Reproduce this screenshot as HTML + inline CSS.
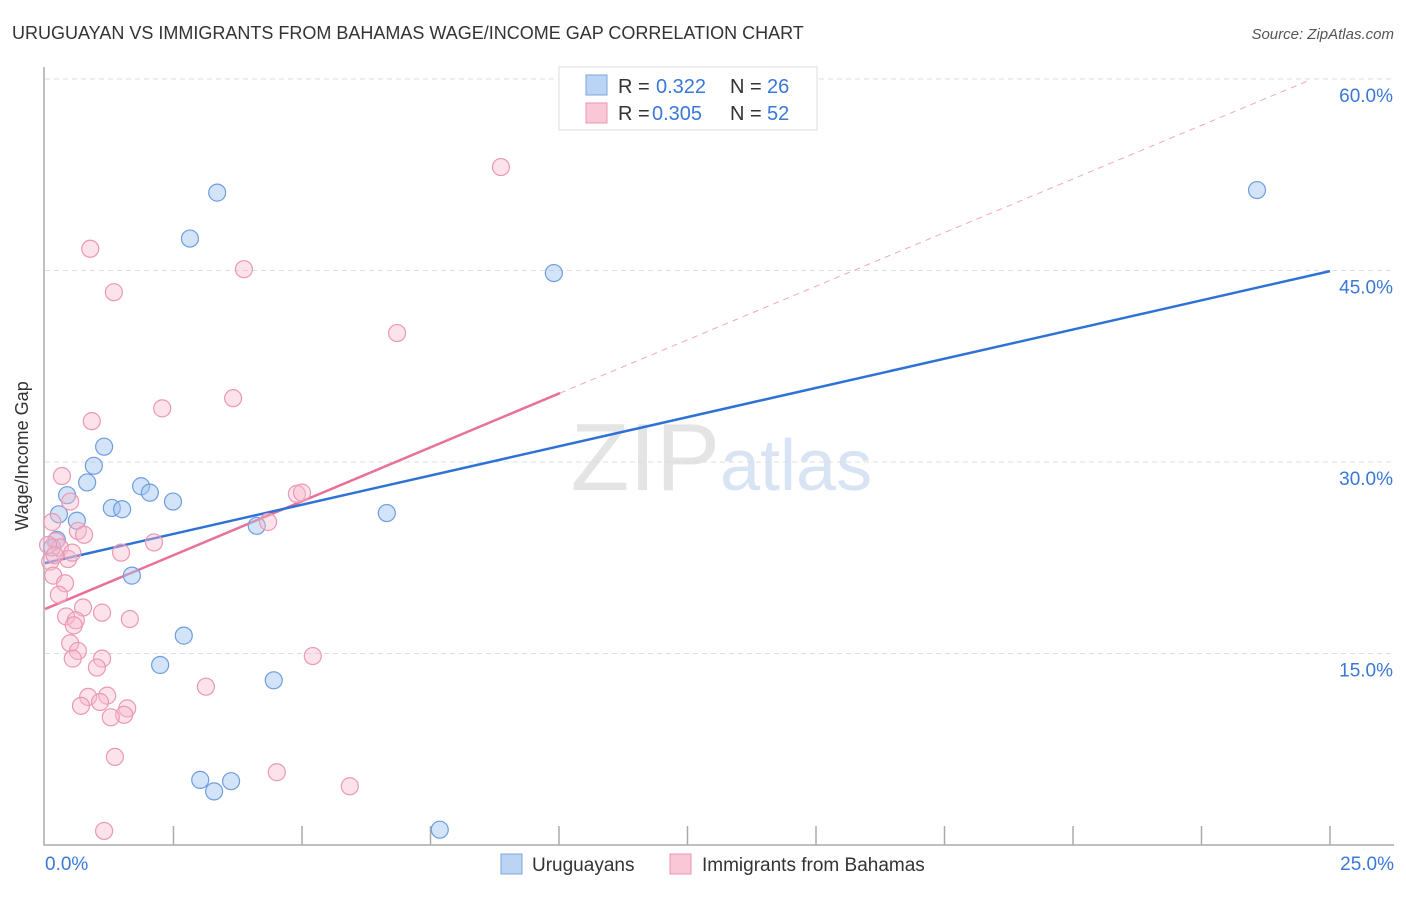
<!DOCTYPE html>
<html><head><meta charset="utf-8"><style>
body{margin:0;background:#fff;font-family:"Liberation Sans",sans-serif;}
svg text{font-family:"Liberation Sans",sans-serif;}
</style></head><body>
<svg width="1406" height="892" xmlns="http://www.w3.org/2000/svg" id="chart">
<text x="12" y="39" font-size="18" fill="#333">URUGUAYAN VS IMMIGRANTS FROM BAHAMAS WAGE/INCOME GAP CORRELATION CHART</text>
<text x="1394" y="39" font-size="15" fill="#555" font-style="italic" text-anchor="end">Source: ZipAtlas.com</text>
<text x="720" y="490" font-size="96" fill="#e4e4e4" text-anchor="end" font-family="Liberation Serif">ZIP</text>
<text x="720" y="490" font-size="72" fill="#d8e4f4">atlas</text>
<g id="grid"></g>
<g id="axes"></g>
<g id="lines"></g>
<g id="points"></g>
<text x="28" y="456" font-size="18" fill="#333" text-anchor="middle" transform="rotate(-90 28 456)">Wage/Income Gap</text>
<g>
<rect x="559" y="67" width="258" height="63" fill="#fff" stroke="#ddd"/>
<rect x="586" y="75" width="21" height="20" fill="#bcd4f4" stroke="#7aa6e0"/>
<text x="618" y="93" font-size="20" fill="#333">R = </text><text x="656" y="93" font-size="20" fill="#3a78d8">0.322</text>
<text x="730" y="93" font-size="20" fill="#333">N = </text><text x="767" y="93" font-size="20" fill="#3a78d8">26</text>
<rect x="586" y="103" width="21" height="20" fill="#f9c8d6" stroke="#ec93ae"/>
<text x="618" y="120" font-size="20" fill="#333">R = </text><text x="652" y="120" font-size="20" fill="#3a78d8">0.305</text>
<text x="730" y="120" font-size="20" fill="#333">N = </text><text x="767" y="120" font-size="20" fill="#3a78d8">52</text>
</g>
<g>
<rect x="501" y="854" width="21" height="20" fill="#bcd4f4" stroke="#7aa6e0"/>
<text x="532" y="871" font-size="19" fill="#333">Uruguayans</text>
<rect x="670" y="854" width="21" height="20" fill="#f9c8d6" stroke="#ec93ae"/>
<text x="702" y="871" font-size="19" fill="#333">Immigrants from Bahamas</text>
</g>
</svg>
<script>
const xTicks=[0,2.5,5,7.5,10,12.5,15,17.5,20,22.5,25];
const yTicks=[15,30,45,60];
const yTickLabels=["15.0%","30.0%","45.0%","60.0%"];
const blueX=[3.35,2.82,9.9,23.58,1.15,0.95,0.82,1.87,2.04,2.49,0.43,0.27,0.62,1.3,1.5,6.65,4.12,0.23,0.14,1.69,2.7,2.24,4.45,3.02,3.29,3.62,7.68];
const blueY=[51.1,47.5,44.8,51.3,31.2,29.7,28.4,28.1,27.6,26.9,27.4,25.9,25.4,26.4,26.3,26.0,25.0,23.9,23.3,21.1,16.4,14.1,12.9,5.1,4.2,5.0,1.2];
const pinkX=[8.87,0.88,3.87,1.34,6.85,3.66,2.28,0.91,0.33,0.49,4.9,5.0,0.14,0.64,0.76,4.34,0.21,0.29,2.12,1.48,0.45,0.1,0.16,0.39,0.27,0.74,0.41,1.11,1.65,0.6,0.56,0.49,0.64,1.11,0.54,1.01,5.21,3.13,0.84,1.21,0.7,1.07,1.6,1.54,1.28,1.36,4.51,5.93,1.15,0.53,0.06,0.19];
const pinkY=[53.1,46.7,45.1,43.3,40.1,35.0,34.2,33.2,28.9,26.9,27.5,27.6,25.3,24.6,24.3,25.3,23.8,23.3,23.7,22.9,22.4,22.2,21.1,20.5,19.6,18.6,17.9,18.2,17.7,17.6,17.2,15.8,15.2,14.6,14.6,13.9,14.8,12.4,11.6,11.7,10.9,11.2,10.7,10.2,10.0,6.9,5.7,4.6,1.1,22.9,23.5,22.7];
const blueLine=[[0,22.08],[25,44.95]];
const pinkSolid=[[0,18.48],[10.02,35.4]];
const pinkDash=[[10.02,35.4],[24.6,59.9]];
const X=v=>45+v*51.4, Y=v=>845-v*12.767;
const NS="http://www.w3.org/2000/svg";
function mk(parent,tag,attrs){const e=document.createElementNS(NS,tag);for(const k in attrs)e.setAttribute(k,attrs[k]);document.getElementById(parent).appendChild(e);return e;}
yTicks.forEach((t,i)=>{
 const g=mk('grid','line',{x1:45,x2:1394,y1:Y(t),y2:Y(t),stroke:'#ddd','stroke-dasharray':'5,4'});
 
 
 const l=mk('grid','text',{x:1393,y:Y(t)+23,'font-size':19,fill:'#3a78d8','text-anchor':'end'});
 l.textContent=yTickLabels[i];
 
 
});
const ax=mk('axes','path',{d:'M44,67 V845 H1394',fill:'none',stroke:'#aaa','stroke-width':1.5});


xTicks.forEach((t,i)=>{if(i===0)return;
 const k=mk('axes','line',{x1:X(t),x2:X(t),y1:826,y2:845,stroke:'#aaa','stroke-width':1.5});
 
 
});
const x0=mk('axes','text',{x:45,y:870,'font-size':19,fill:'#3a78d8'});x0.textContent='0.0%';


const x1=mk('axes','text',{x:1394,y:870,'font-size':19,fill:'#3a78d8','text-anchor':'end'});x1.textContent='25.0%';


function ln(p,c,w,d,name){const e=mk('lines','line',{x1:X(p[0][0]),y1:Y(p[0][1]),x2:X(p[1][0]),y2:Y(p[1][1]),stroke:c,'stroke-width':w});if(d)e.setAttribute('stroke-dasharray',d);
 
 }
ln(pinkDash,'#f0a8bf',1,'6,5','pink-trend-extension');
ln(pinkSolid,'#e8709a',2.5,null,'pink-trend-line');
ln(blueLine,'#2f72d6',2.5,null,'blue-trend-line');
blueX.forEach((x,i)=>{const c=mk('points','circle',{cx:X(x),cy:Y(blueY[i]),r:8.5,fill:'rgba(160,196,240,0.45)',stroke:'#6d9de0','stroke-width':1.2});
 
 });
pinkX.forEach((x,i)=>{const c=mk('points','circle',{cx:X(x),cy:Y(pinkY[i]),r:8.5,fill:'rgba(248,186,206,0.4)',stroke:'#eb98b3','stroke-width':1.2});
 
 });
</script>
</body></html>
